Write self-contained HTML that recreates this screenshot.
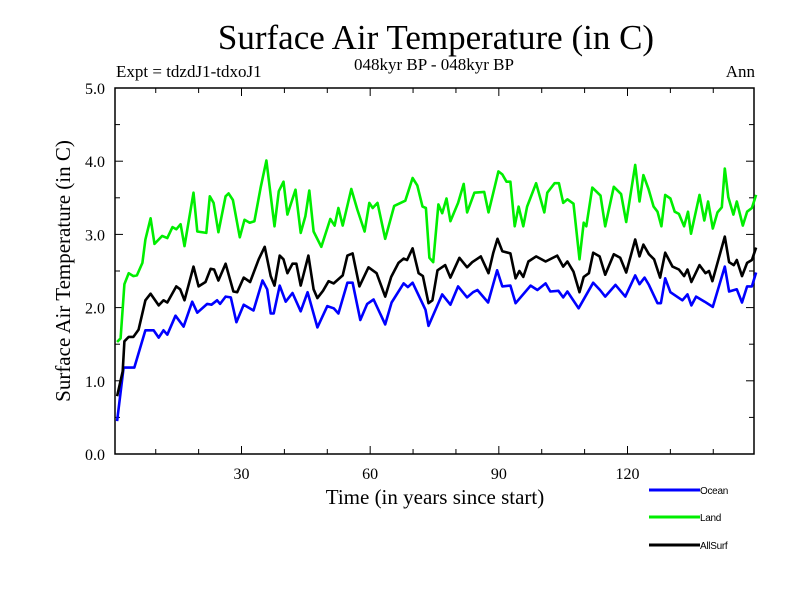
<!DOCTYPE html>
<html><head><meta charset="utf-8"><style>
body{margin:0;background:#fff;}
svg{display:block;}
.serif{font-family:"Liberation Serif",serif;}
.sans{font-family:"Liberation Sans",sans-serif;}
</style></head><body>
<svg id="chart" width="800" height="600" viewBox="0 0 800 600">
<text class="serif" x="436" y="49" font-size="35" text-anchor="middle">Surface Air Temperature (in C)</text>
<text class="serif" x="434" y="70" font-size="17" text-anchor="middle">048kyr BP - 048kyr BP</text>
<text class="serif" x="116" y="77" font-size="17">Expt = tdzdJ1-tdxoJ1</text>
<text class="serif" x="755" y="77" font-size="17" text-anchor="end">Ann</text>
<text class="serif" x="435" y="504" font-size="21" text-anchor="middle">Time (in years since start)</text>
<text class="serif" x="0" y="0" font-size="21" text-anchor="middle" transform="translate(70,271) rotate(-90)">Surface Air Temperature (in C)</text>
<g id="axes"></g>
<g id="series"></g>
<g id="legend"></g>
</svg>
<script>
const yTicks=[0,1,2,3,4,5];
const xTicks=[30,60,90,120];
const seriesNames=["Ocean","Land","AllSurf"];
const oceanYears=[1,2.5,5,7.6,9.5,10.7,11.8,12.7,14.6,16.5,18.5,19.7,22,23,24.3,25,26.3,27.5,28.8,30.5,32.8,34.9,36,36.8,37.5,38.9,40.3,41.9,43.8,45.4,47.7,50,51.5,52.6,54.7,55.9,57.7,59.3,60.8,63.5,65,67.8,68.8,69.9,72.9,73.6,76.8,78.7,80.5,82.6,84,85,87.5,89.6,90.8,92.7,93.9,97.4,99,100.9,102,103.9,105,106,108.6,112,113.6,114.8,117.2,119.5,121.8,122.8,124,125,127,127.8,128.8,130,132.8,134,134.9,136,138,139.9,142.7,143.7,145.5,146.7,147.9,149,150];
const oceanValues=[0.45,1.18,1.18,1.69,1.69,1.59,1.69,1.63,1.89,1.74,2.08,1.93,2.05,2.04,2.1,2.05,2.15,2.14,1.8,2.04,1.96,2.37,2.25,1.92,1.92,2.3,2.08,2.2,1.95,2.21,1.73,2.02,1.99,1.92,2.34,2.34,1.83,2.05,2.11,1.77,2.07,2.33,2.28,2.34,1.97,1.75,2.18,2.04,2.29,2.14,2.21,2.24,2.07,2.51,2.29,2.3,2.06,2.3,2.24,2.33,2.22,2.23,2.14,2.22,1.99,2.34,2.24,2.15,2.31,2.15,2.44,2.32,2.41,2.31,2.06,2.06,2.4,2.21,2.1,2.18,2.03,2.15,2.08,2.01,2.56,2.22,2.25,2.07,2.29,2.29,2.48];
const landYears=[1,1.8,2.7,3.7,4.8,5.6,6.9,7.6,8.8,9.7,11.5,12.7,13.9,14.8,15.8,16.7,18.8,19.7,21.8,22.6,23.5,24.6,26.3,27,28,29.6,30.7,31.9,33,34.5,35.8,37.7,38.7,39.8,40.7,42.6,43.8,44.9,45.8,46.8,48.6,50.7,51.7,52.6,53.6,55.6,57,58.7,59.8,60.6,61.7,63.5,65.6,68.2,69.9,71,72.2,73,73.8,74.7,75.9,76.8,77.8,78.7,80.5,81.8,82.6,84.3,86.6,87.6,88.7,89.9,90.8,91.8,92.7,93.7,94.6,95.7,96.6,98.7,100.6,101.3,103,104,105,106,107.4,108.8,109.8,110.4,111.8,113.7,114.8,116.8,118.5,119.7,121.8,122.8,123.7,124.9,126.1,127,127.9,128.8,130,131,132,133.2,134.1,134.8,136.8,137.9,138.8,139.9,141,142,142.7,143.5,144.7,145.5,146.9,147.9,149,150];
const landValues=[1.53,1.58,2.32,2.47,2.43,2.44,2.61,2.93,3.22,2.87,2.98,2.95,3.1,3.07,3.14,2.84,3.57,3.04,3.02,3.52,3.43,3.03,3.52,3.56,3.47,2.96,3.2,3.16,3.18,3.65,4.01,3.11,3.59,3.72,3.27,3.61,3.02,3.25,3.6,3.04,2.83,3.21,3.12,3.36,3.12,3.62,3.34,3.04,3.43,3.36,3.43,2.94,3.39,3.46,3.77,3.67,3.38,3.36,2.68,2.62,3.41,3.29,3.49,3.18,3.43,3.69,3.3,3.57,3.58,3.3,3.57,3.86,3.82,3.72,3.72,3.11,3.38,3.11,3.38,3.7,3.3,3.57,3.7,3.7,3.43,3.48,3.42,2.66,3.16,3.11,3.64,3.53,3.11,3.65,3.55,3.17,3.95,3.45,3.81,3.62,3.38,3.31,3.11,3.54,3.49,3.31,3.28,3.11,3.31,3.01,3.54,3.19,3.45,3.08,3.3,3.37,3.9,3.51,3.27,3.45,3.12,3.31,3.36,3.54];
const allYears=[1,2.3,2.7,3.7,4.8,6,7.6,8.8,10.7,11.8,12.7,14.8,15.7,16.7,18.8,20,21.6,22.8,23.6,24.6,26.3,28.1,29,30.5,32,34,35.4,36.8,37.7,38.9,39.8,40.7,41.9,42.8,43.8,45.6,46.8,47.7,49,50.3,51.5,53.6,54.7,55.9,57.5,59.6,61.5,63.5,64.9,66.6,67.8,68.6,69.9,71.3,72.3,73.6,74.5,75.7,77.5,78.7,80.8,82.6,83.8,85.8,87.6,88.7,89.7,90.8,92.7,93.9,94.8,95.7,96.9,98.7,100.9,103.6,105,106,107.4,108.8,109.8,111,112,113.5,114.8,116.8,118.3,119.7,121.8,122.8,123.7,125,126.2,127.6,128.8,130.5,132,133.2,134,134.9,136.8,138.2,139,139.8,142.7,143.7,144.8,145.5,146.7,147.9,149,150];
const allValues=[0.79,1.13,1.54,1.6,1.6,1.7,2.1,2.19,2.03,2.1,2.07,2.29,2.25,2.1,2.56,2.29,2.35,2.53,2.52,2.37,2.6,2.22,2.21,2.41,2.35,2.66,2.83,2.43,2.3,2.71,2.66,2.47,2.6,2.6,2.3,2.71,2.25,2.13,2.23,2.36,2.33,2.44,2.71,2.74,2.29,2.55,2.47,2.15,2.42,2.61,2.67,2.65,2.81,2.47,2.43,2.06,2.1,2.51,2.58,2.41,2.68,2.55,2.62,2.7,2.47,2.75,2.94,2.77,2.74,2.4,2.5,2.42,2.63,2.7,2.63,2.71,2.56,2.63,2.49,2.21,2.42,2.47,2.75,2.7,2.45,2.73,2.68,2.48,2.93,2.7,2.86,2.73,2.66,2.41,2.75,2.56,2.52,2.43,2.52,2.35,2.58,2.47,2.5,2.36,2.97,2.62,2.58,2.65,2.43,2.61,2.65,2.82];

const NS='http://www.w3.org/2000/svg';
const L=115,R=754,T=88,B=454,X0=0.5,X1=149.5,Y0=0,Y1=5;
function xs(v){return L+(v-X0)/(X1-X0)*(R-L);}
function ys(v){return B-(v-Y0)/(Y1-Y0)*(B-T);}
function mk(tag,attrs,parent){const e=document.createElementNS(NS,tag);for(const k in attrs)e.setAttribute(k,attrs[k]);parent.appendChild(e);return e;}
const axes=document.getElementById('axes');
const frame=mk('rect',{x:L,y:T,width:R-L,height:B-T,fill:'none',stroke:'#000','stroke-width':1.5},axes);


for(let v=0;v<=5.0001;v+=0.5){
  const y=ys(v);const major=Math.abs(v-Math.round(v))<1e-6;const len=major?8:5;
  const t1=mk('line',{x1:L,x2:L+len,y1:y,y2:y,stroke:'#000','stroke-width':1},axes);
  
  
  const t2=mk('line',{x1:R,x2:R-len,y1:y,y2:y,stroke:'#000','stroke-width':1},axes);
  
  
}
yTicks.forEach(v=>{
  const t=mk('text',{x:L-10,y:ys(v)+6,'font-size':16,'text-anchor':'end','class':'serif'},axes);
  t.textContent=v.toFixed(1);
  
  
});
for(let v=10;v<150;v+=10){
  const x=xs(v);const major=v%30===0;const len=major?8:5;
  const a=mk('line',{x1:x,x2:x,y1:B,y2:B-len,stroke:'#000','stroke-width':1},axes);
  
  
  const b=mk('line',{x1:x,x2:x,y1:T,y2:T+len,stroke:'#000','stroke-width':1},axes);
  
  
}
xTicks.forEach(v=>{
  const t=mk('text',{x:xs(v),y:479,'font-size':16,'text-anchor':'middle','class':'serif'},axes);
  t.textContent=String(v);
  
  
});
const sg=document.getElementById('series');
const defs=[[oceanYears,oceanValues,'#0000ff'],[landYears,landValues,'#00ee00'],[allYears,allValues,'#000000']];
const lnames=['ocean-line','land-line','allsurf-line'];
defs.forEach((d,i)=>{
  const pts=d[0].map((yr,j)=>xs(yr).toFixed(1)+','+ys(d[1][j]).toFixed(1)).join(' ');
  const p=mk('polyline',{points:pts,fill:'none',stroke:d[2],'stroke-width':2.6,'stroke-linejoin':'round'},sg);
  
  
});
const lg=document.getElementById('legend');
const ly=[490,517,545];
seriesNames.forEach((n,i)=>{
  const l=mk('line',{x1:649,x2:700,y1:ly[i],y2:ly[i],stroke:defs[i][2],'stroke-width':3},lg);
  
  
  const t=mk('text',{x:700,y:ly[i]+4,'font-size':10,'class':'sans','letter-spacing':'-0.3'},lg);
  t.textContent=n;
  
  
});
</script>
</body></html>
